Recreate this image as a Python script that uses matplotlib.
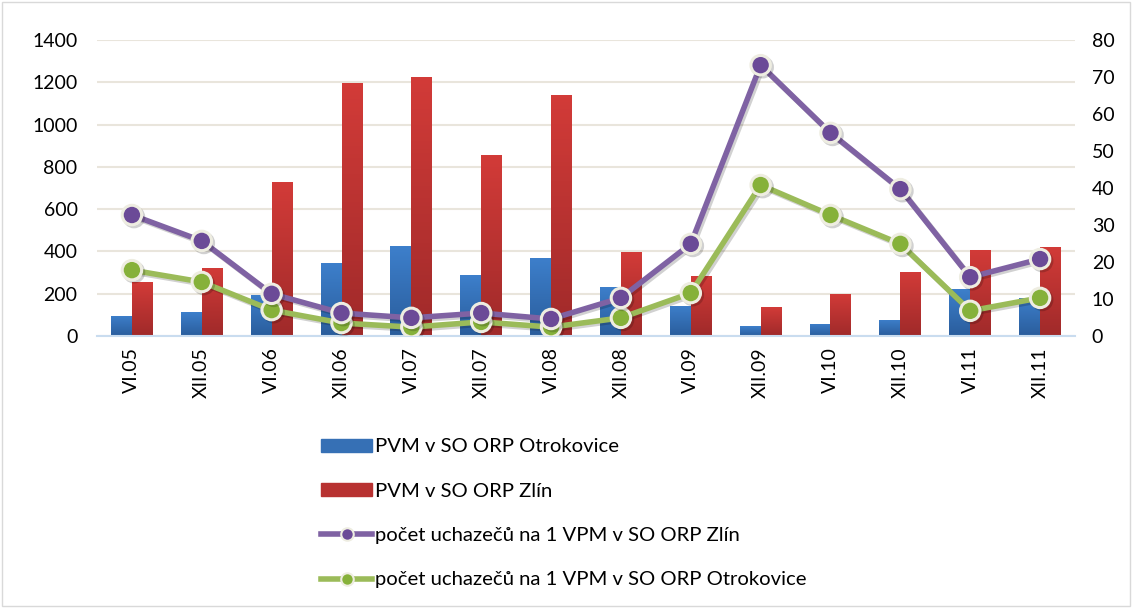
import numpy as np
import matplotlib
matplotlib.use("Agg")
import matplotlib.pyplot as plt
from matplotlib.lines import Line2D
from matplotlib.patches import Patch, Rectangle
import matplotlib.patheffects as pe
from matplotlib.colors import LinearSegmentedColormap

plt.rcParams['font.family'] = ['Lato', 'DejaVu Sans']

categories = ["VI.05", "XII.05", "VI.06", "XII.06", "VI.07", "XII.07", "VI.08",
              "XII.08", "VI.09", "XII.09", "VI.10", "XII.10", "VI.11", "XII.11"]
pvm_otrokovice = [95, 113, 194, 345, 425, 288, 369, 232, 142, 47, 57, 76, 222, 180]
pvm_zlin = [255, 322, 728, 1196, 1225, 856, 1140, 397, 284, 137, 199, 303, 407, 421]
uch_zlin = [32.7, 25.7, 11.4, 6.2, 4.9, 6.2, 4.6, 10.3, 24.9, 73.2, 54.9, 39.7, 15.9, 20.8]
uch_otrokovice = [17.8, 14.6, 7.0, 3.5, 2.4, 3.8, 2.4, 4.9, 11.6, 40.8, 32.7, 24.9, 6.8, 10.3]

labels = ["PVM v SO ORP Otrokovice", "PVM v SO ORP Zlín",
          "počet uchazečů na 1 VPM v SO ORP Zlín",
          "počet uchazečů na 1 VPM v SO ORP Otrokovice"]

fig = plt.figure(figsize=(11.32, 6.08), dpi=100)
ax = fig.add_axes([97/1132, 1-336/608, (1075-97)/1132, (336-40)/608])
ax2 = ax.twinx()

x = np.arange(len(categories))
w = 0.3
blue_cm = LinearSegmentedColormap.from_list("b", ["#2A5D9C", "#3D7FCB"])
red_cm = LinearSegmentedColormap.from_list("r", ["#A02A2A", "#D23B38"])
grad = np.linspace(0, 1, 64).reshape(-1, 1)

bars_b = ax.bar(x - w/2, pvm_otrokovice, w, color="#3B78C2", zorder=2)
bars_r = ax.bar(x + w/2, pvm_zlin, w, color="#C43633", zorder=2)
for bars, cm in ((bars_b, blue_cm), (bars_r, red_cm)):
    for b in bars:
        bx, by = b.get_x(), b.get_y()
        bw, bh = b.get_width(), b.get_height()
        im = ax.imshow(grad, cmap=cm, aspect='auto', origin='lower',
                       extent=[bx, bx + bw, by, by + bh], zorder=2.1)
        im.set_clip_path(b)

ax.set_xlim(-0.5, len(categories) - 0.5)
ax.set_ylim(0, 1400)
ax.set_yticks(np.arange(0, 1401, 200))
ax2.set_ylim(0, 80)
ax2.set_yticks(np.arange(0, 81, 10))
ax.set_xticks(x)
ax.set_xticklabels(categories, rotation=90)

ax.grid(axis='y', color="#E9E5DC", linewidth=1.5, zorder=0)
ax.set_axisbelow(True)
for a in (ax, ax2):
    for s in a.spines.values():
        s.set_visible(False)
    a.tick_params(length=0, labelsize=14, colors="#000000")
ax.spines['bottom'].set_visible(True)
ax.spines['bottom'].set_color("#C9DCEF")
ax.spines['bottom'].set_linewidth(1.5)
ax.tick_params(axis='x', pad=8)
ax.tick_params(axis='y', pad=14)
ax2.tick_params(axis='y', pad=12)

shadow = [pe.SimpleLineShadow(offset=(1.5, -1.5), shadow_color='#000000', alpha=0.18), pe.Normal()]
purple_line = "#7F62A3"
purple_mk = "#6B4A97"
green_line = "#9BBB59"
green_mk = "#86B13A"
edge = "#EEEDE1"
ax2.plot(x, uch_zlin, color=purple_line, lw=4.0, marker='o', ms=14,
         mfc=purple_mk, mec=edge, mew=2.2, zorder=5, path_effects=shadow)
ax2.plot(x, uch_otrokovice, color=green_line, lw=4.0, marker='o', ms=14,
         mfc=green_mk, mec=edge, mew=2.2, zorder=4, path_effects=shadow)

handles = [Patch(color="#3670B5"), Patch(color="#B83231"),
           Line2D([0], [0], color=purple_line, lw=4, marker='o', ms=9, mfc=purple_mk, mec=edge, mew=1.5),
           Line2D([0], [0], color=green_line, lw=4, marker='o', ms=9, mfc=green_mk, mec=edge, mew=1.5)]
fig.legend(handles, labels, loc='upper left', bbox_to_anchor=(303/1132, 1-420/608),
           frameon=False, fontsize=14.6, labelspacing=1.35, handlelength=2.5,
           handleheight=0.6, handletextpad=0.15)

fig.patches.append(Rectangle((0.0015, 0.0025), 0.997, 0.995, transform=fig.transFigure,
                             fill=False, edgecolor="#D9D9D9", linewidth=1))

fig.savefig("out.png", dpi=100)
